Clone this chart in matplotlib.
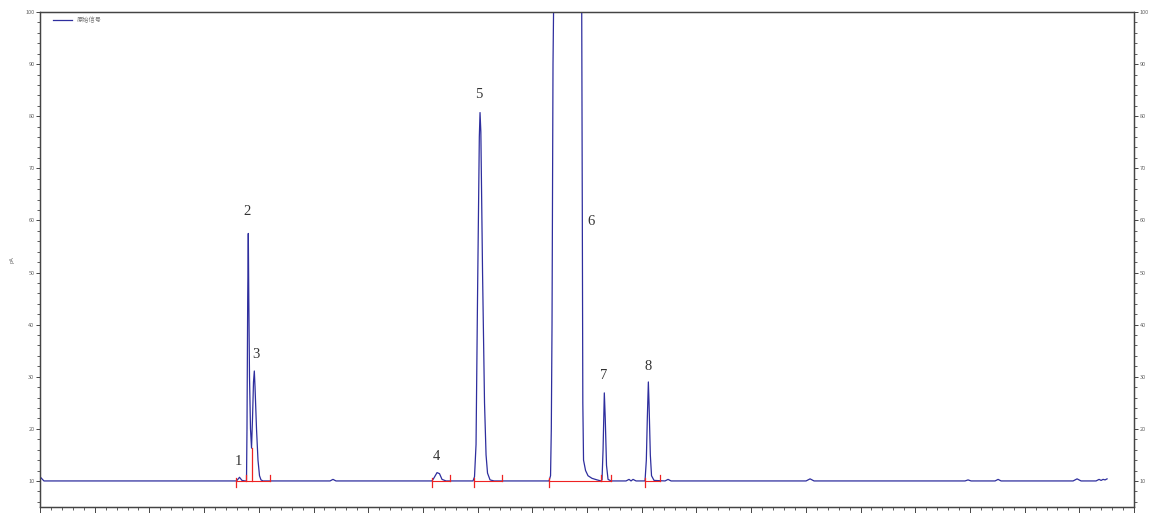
import matplotlib
matplotlib.use('Agg')
import matplotlib.pyplot as plt
from matplotlib.ticker import MultipleLocator

plt.rcParams['font.family'] = ['Noto Sans CJK SC', 'DejaVu Sans']

# chromatogram trace, time [min] / signal [pA]
t = [0.000, 0.073, 3.583,
     3.601, 3.647, 3.693, 3.748,
     3.775, 3.784, 3.797, 3.808, 3.817, 3.830, 3.848, 3.867,
     3.885, 3.903, 3.918, 3.931, 3.958, 3.985, 4.013, 4.040, 4.077,
     5.302, 5.356, 5.411,
     7.166, 7.203, 7.258, 7.303, 7.349, 7.422,
     7.916, 7.943, 7.971, 7.998, 8.031, 8.044, 8.059, 8.090, 8.126, 8.154, 8.181, 8.227, 8.300,
     9.305, 9.333, 9.347, 9.360, 9.378, 9.388, 9.397, 9.616, 9.890, 9.903, 9.914, 9.923, 9.936,
     9.973, 10.018, 10.091, 10.183, 10.256,
     10.274, 10.293, 10.316, 10.333, 10.356, 10.384, 10.439,
     10.713, 10.768, 10.804, 10.841, 10.896,
     11.060, 11.084, 11.102, 11.121, 11.133, 11.157, 11.179, 11.225,
     11.426, 11.481, 11.536,
     14.004, 14.077, 14.150,
     16.910, 16.965, 17.020,
     17.459, 17.514, 17.569,
     18.885, 18.958, 19.031,
     19.305, 19.360, 19.397, 19.433, 19.470, 19.506]
sig = [10.8, 10.0, 10.0,
       10.1, 10.7, 10.1, 10.0,
       10.0, 20.0, 45.0, 57.5, 45.0, 30.0, 20.0, 16.3,
       22.0, 29.0, 31.1, 28.0, 20.0, 14.0, 11.0, 10.2, 10.0,
       10.0, 10.3, 10.0,
       10.0, 10.6, 11.6, 11.4, 10.3, 10.0,
       10.0, 10.8, 17.0, 45.0, 76.0, 80.7, 77.0, 50.0, 25.0, 15.0, 11.5, 10.2, 10.0,
       10.0, 11.0, 20.0, 40.0, 90.0, 100.0, 140.0, 170.0, 140.0, 100.0, 60.0, 25.0, 14.0,
       12.0, 11.0, 10.5, 10.2, 10.0,
       10.2, 16.0, 26.9, 22.0, 13.0, 10.3, 10.0,
       10.0, 10.3, 10.0, 10.3, 10.0,
       10.0, 14.0, 22.0, 29.0, 25.0, 15.0, 11.0, 10.1,
       10.0, 10.3, 10.0,
       10.0, 10.4, 10.0,
       10.0, 10.2, 10.0,
       10.0, 10.3, 10.0,
       10.0, 10.4, 10.0,
       10.0, 10.3, 10.1, 10.3, 10.2, 10.4]

# integration events
starts = [3.583, 7.166, 7.934, 9.305, 11.060]
ends = [3.766, 4.205, 7.495, 8.446, 10.256, 10.439, 11.335]
drop_t = [3.870]
drop_v = [16.3]
base_from = [3.583, 7.166, 7.934, 9.305, 11.060]
base_to = [4.205, 7.495, 8.446, 10.439, 11.335]

# peak numbers
peak_ids = ['1', '2', '3', '4', '5', '6', '7', '8']
peak_t = [3.620, 3.784, 3.949, 7.240, 8.026, 10.073, 10.311, 11.115]
peak_v = [12.5, 60.4, 33.0, 13.4, 83.0, 58.5, 29.0, 30.7]

LINE = '#2e2e9e'
RED = '#ee2222'
AXC = '#444444'

fig = plt.figure(figsize=(11.59, 5.13), dpi=100)
ax = fig.add_axes([0.0345, 0.0117, 0.9440, 0.9649])
ax.plot(t, sig, color=LINE, lw=0.9, label='原始信号', zorder=3)

# baselines and event marks
for a, b in zip(base_from, base_to):
    ax.plot([a, b], [10.0, 10.0], color=RED, lw=0.8, zorder=4)
for x in starts:
    ax.plot([x, x], [8.8, 10.6], color=RED, lw=0.9, zorder=4)
for x in ends:
    ax.plot([x, x], [10.0, 11.2], color=RED, lw=0.9, zorder=4)
for x, v in zip(drop_t, drop_v):
    ax.plot([x, x], [10.0, v], color=RED, lw=0.9, zorder=4)

for s, x, v in zip(peak_ids, peak_t, peak_v):
    ax.text(x, v, s, ha='center', va='bottom', fontsize=10.5,
            family='Liberation Serif', color='#333333')

ax.set_xlim(0, 20)
ax.set_ylim(5, 100)
ax.xaxis.set_major_locator(MultipleLocator(1))
ax.xaxis.set_minor_locator(MultipleLocator(0.2))
ax.yaxis.set_major_locator(MultipleLocator(10))
ax.yaxis.set_minor_locator(MultipleLocator(2))
ax.set_xticklabels([])
ax.tick_params(axis='x', which='major', length=4, width=0.7, colors=AXC)
ax.tick_params(axis='x', which='minor', length=2.5, width=0.6, colors=AXC)
ax.tick_params(axis='y', which='major', length=3, width=0.7, colors=AXC,
               labelsize=4, labelcolor='#666666', pad=1)
ax.tick_params(axis='y', which='minor', length=2, width=0.6, colors=AXC)

ay = ax.twinx()
ay.set_ylim(5, 100)
ay.yaxis.set_major_locator(MultipleLocator(10))
ay.yaxis.set_minor_locator(MultipleLocator(2))
ay.tick_params(axis='y', which='major', length=3, width=0.7, colors=AXC,
               labelsize=4, labelcolor='#666666', pad=1)
ay.tick_params(axis='y', which='minor', length=2, width=0.6, colors=AXC)

for a in (ax, ay):
    for sp in a.spines.values():
        sp.set_color(AXC)
        sp.set_linewidth(0.9)

ax.set_ylabel('pA', fontsize=4, color='#666666', labelpad=8)

leg = ax.legend(loc='upper left', fontsize=4.5, frameon=False,
                handlelength=3, borderaxespad=0.3, bbox_to_anchor=(0.008, 1.0))
for txt in leg.get_texts():
    txt.set_color('#777777')

fig.savefig('out.png', dpi=100)
